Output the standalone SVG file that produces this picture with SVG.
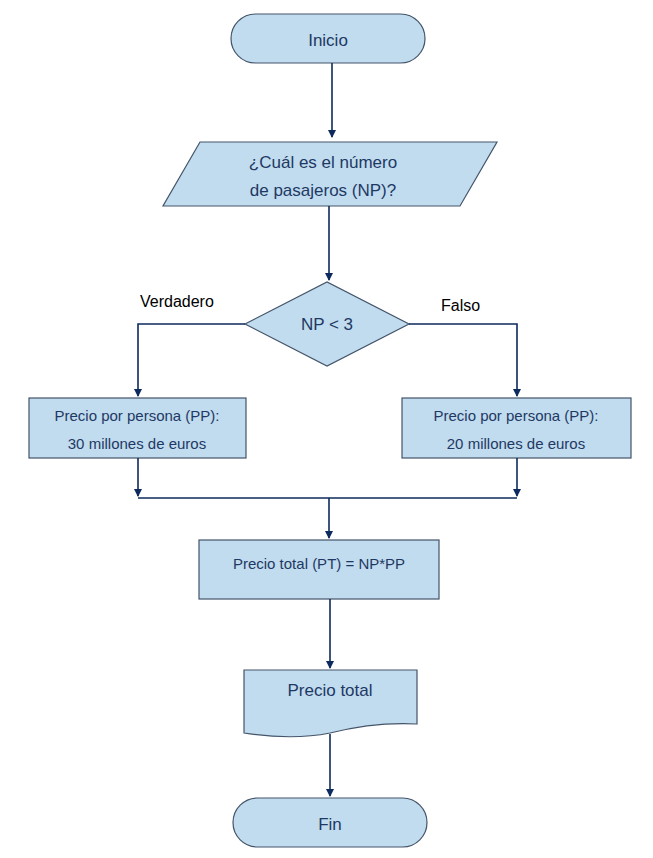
<svg xmlns="http://www.w3.org/2000/svg" width="653" height="858" viewBox="0 0 653 858">
<style>
.s{fill:#c0dcee;stroke:#44546a;stroke-width:1.2}
.t{font-family:"Liberation Sans",Arial,sans-serif;fill:#1f3864;text-anchor:middle}
.l{font-family:"Liberation Sans",Arial,sans-serif;fill:#000;font-size:16px}
.c{fill:none;stroke:#0d2a5e;stroke-width:1.6}
</style>
<defs><marker id="a" markerWidth="8" markerHeight="10" refX="7" refY="5" orient="auto" markerUnits="userSpaceOnUse"><path d="M0,1 L8,5 L0,9 Z" fill="#0d2a5e"/></marker></defs>
<rect width="653" height="858" fill="#fff"/>
<g id="inicio"><rect class="s" x="231" y="14" width="194" height="49" rx="24.5"/><text class="t" x="328" y="46" font-size="17">Inicio</text></g>
<g id="entrada"><polygon class="s" points="200,142 497,142 460,206 163,206"/><text class="t" x="323" y="168" font-size="17">¿Cuál es el número</text><text class="t" x="323" y="196" font-size="17">de pasajeros (NP)?</text></g>
<g id="decision"><polygon class="s" points="245,324 327,282 409,324 327,366"/><text class="t" x="327" y="330" font-size="17">NP &lt; 3</text></g>
<g id="pp30"><rect class="s" x="29" y="398" width="217" height="60"/><text class="t" x="137" y="421" font-size="15">Precio por persona (PP):</text><text class="t" x="137" y="449" font-size="15">30 millones de euros</text></g>
<g id="pp20"><rect class="s" x="402" y="398" width="229" height="60"/><text class="t" x="516" y="421" font-size="15">Precio por persona (PP):</text><text class="t" x="516" y="449" font-size="15">20 millones de euros</text></g>
<g id="pt"><rect class="s" x="199" y="540" width="240" height="59"/><text class="t" x="319" y="569" font-size="15">Precio total (PT) = NP*PP</text></g>
<g id="doc"><path class="s" d="M244,670 H417 V724 C380,722 350,728 330,733 C300,739 270,737 244,733 Z"/><text class="t" x="330" y="696" font-size="17">Precio total</text></g>
<g id="fin"><rect class="s" x="233" y="798" width="194" height="49" rx="24.5"/><text class="t" x="330" y="830" font-size="17">Fin</text></g>
<text class="l" x="140" y="307">Verdadero</text>
<text class="l" x="441" y="311">Falso</text>
<g id="connectors">
<path class="c" d="M332,63 V137" marker-end="url(#a)"/>
<path class="c" d="M329,206 V280" marker-end="url(#a)"/>
<path class="c" d="M245,324 H138 V396" marker-end="url(#a)"/>
<path class="c" d="M409,324 H517 V396" marker-end="url(#a)"/>
<path class="c" d="M138,458 V496" marker-end="url(#a)"/>
<path class="c" d="M517,458 V496" marker-end="url(#a)"/>
<path class="c" d="M138,498 H517"/>
<path class="c" d="M329,498 V538" marker-end="url(#a)"/>
<path class="c" d="M330,599 V668" marker-end="url(#a)"/>
<path class="c" d="M330,734 V796" marker-end="url(#a)"/>
</g>
</svg>
